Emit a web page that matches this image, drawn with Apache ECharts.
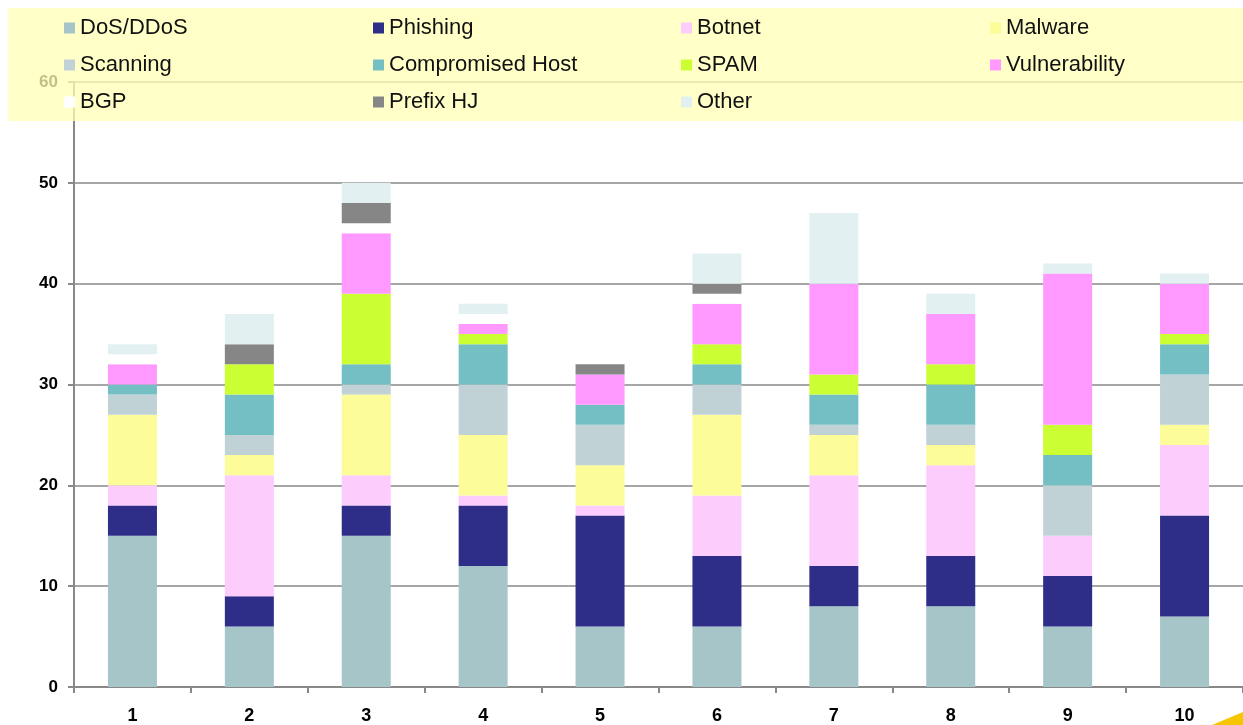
<!DOCTYPE html>
<html>
<head>
<meta charset="utf-8">
<title>Incidents by category</title>
<script src="https://cdn.jsdelivr.net/npm/echarts@6/dist/echarts.min.js"></script>
<style>
  html, body { margin: 0; padding: 0; background: #ffffff; }
  #chart { width: 1243px; height: 725px; }
</style>
</head>
<body>
<div id="chart"></div>
<script>
// Periods on the x axis
const categories = ['1', '2', '3', '4', '5', '6', '7', '8', '9', '10'];

// Incident counts per category, stacked bottom to top
const dosDdos       = [15,  6, 15, 12,  6,  6,  8,  8,  6,  7];
const phishing      = [ 3,  3,  3,  6, 11,  7,  4,  5,  5, 10];
const botnet        = [ 2, 12,  3,  1,  1,  6,  9,  9,  4,  7];
const malware       = [ 7,  2,  8,  6,  4,  8,  4,  2,  0,  2];
const scanning      = [ 2,  2,  1,  5,  4,  3,  1,  2,  5,  5];
const compromised   = [ 1,  4,  2,  4,  2,  2,  3,  4,  3,  3];
const spam          = [ 0,  3,  7,  1,  0,  2,  2,  2,  3,  1];
const vulnerability = [ 2,  0,  6,  1,  3,  4,  9,  5, 15,  5];
const bgp           = [ 1,  0,  1,  1,  0,  1,  0,  0,  0,  0];
const prefixHj      = [ 0,  2,  2,  0,  1,  1,  0,  0,  0,  0];
const other         = [ 1,  3,  2,  1,  0,  3,  7,  2,  1,  1];

const seriesNames = ['DoS/DDoS', 'Phishing', 'Botnet', 'Malware',
                     'Scanning', 'Compromised Host', 'SPAM', 'Vulnerability',
                     'BGP', 'Prefix HJ', 'Other'];
const seriesData  = [dosDdos, phishing, botnet, malware,
                     scanning, compromised, spam, vulnerability,
                     bgp, prefixHj, other];
const seriesColors = ['#A6C5C8', '#2E2D87', '#FCCCFC', '#FCFC98',
                      '#C0D2D6', '#74BFC4', '#CCFF33', '#FF99FF',
                      '#FFFFFF', '#868686', '#E2F0F2'];

const yTicks = { min: 0, max: 60, interval: 10 };

// Legend grid: four columns, three rows
const legendColLeft = [64, 373, 681, 990];
const legendRowTop  = [17, 54, 91];

const chart = echarts.init(document.getElementById('chart'), null, { renderer: 'canvas' });

const legends = seriesNames.map((name, i) => ({
  data: [name],
  left: legendColLeft[i % 4],
  top: legendRowTop[Math.floor(i / 4)],
  padding: 0,
  icon: 'rect',
  itemWidth: 11,
  itemHeight: 11,
  selectedMode: false,
  z: 20,
  textStyle: {
    fontFamily: '"Liberation Sans", Arial, sans-serif',
    fontSize: 22,
    lineHeight: 22,
    color: '#111111'
  }
}));

const option = {
  backgroundColor: '#ffffff',
  animation: false,
  grid: { left: 74, right: -2, top: 82, bottom: 37, containLabel: false },
  legend: legends,
  graphic: [
    {
      type: 'rect',
      z: 10,
      shape: { x: 8, y: 8, width: 1240, height: 113 },
      style: { fill: 'rgba(255,255,180,0.75)' }
    },
    {
      type: 'polygon',
      z: 10,
      shape: { points: [[1212, 725], [1243, 712], [1243, 725]] },
      style: { fill: '#F6C700' }
    }
  ],
  xAxis: {
    type: 'category',
    data: categories,
    boundaryGap: true,
    axisLine: { lineStyle: { color: '#888888', width: 2 } },
    axisTick: { show: true, alignWithLabel: false, length: 6, lineStyle: { color: '#888888', width: 2 } },
    axisLabel: {
      margin: 20,
      fontFamily: '"Liberation Sans", Arial, sans-serif',
      fontWeight: 'bold',
      fontSize: 18,
      color: '#000000'
    },
    splitLine: { show: false }
  },
  yAxis: {
    type: 'value',
    min: yTicks.min,
    max: yTicks.max,
    interval: yTicks.interval,
    axisLine: { show: true, lineStyle: { color: '#888888', width: 2 } },
    axisTick: { show: true, length: 6, lineStyle: { color: '#888888', width: 2 } },
    axisLabel: {
      margin: 16,
      fontFamily: '"Liberation Sans", Arial, sans-serif',
      fontWeight: 'bold',
      fontSize: 17,
      color: '#000000'
    },
    splitLine: { show: true, lineStyle: { color: '#888888', width: 1.5 } }
  },
  series: seriesNames.map((name, i) => ({
    name: name,
    type: 'bar',
    stack: 'incidents',
    barWidth: 49,
    data: seriesData[i],
    itemStyle: { color: seriesColors[i] },
    emphasis: { disabled: true }
  }))
};

chart.setOption(option);
</script>
</body>
</html>
